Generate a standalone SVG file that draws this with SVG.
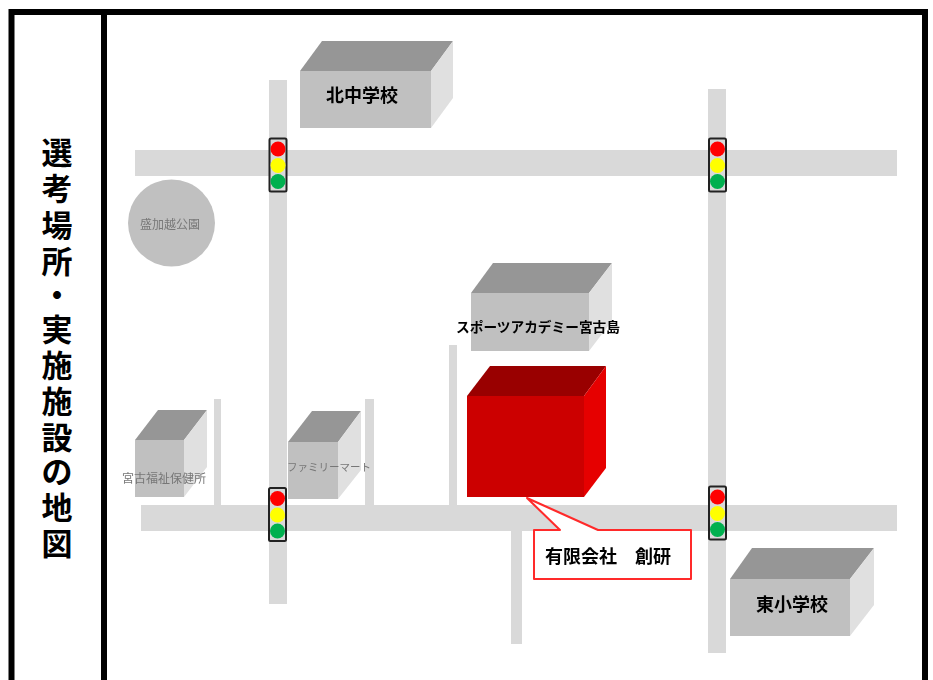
<svg xmlns="http://www.w3.org/2000/svg" width="933" height="680" viewBox="0 0 933 680">
<style>
.road{fill:#d9d9d9}
.top{fill:#969696}
.front{fill:#c0c0c0}
.side{fill:#e0e0e0}
.box{fill:none;stroke:#222;stroke-width:2}
.t{font-family:"Noto Sans CJK JP","Liberation Sans",sans-serif;text-anchor:middle}
.b{font-weight:700;fill:#000;font-size:18px}
.g{fill:#777;font-size:12px}
.frame{fill:none;stroke:#000;stroke-width:6}
</style>
<defs>
<filter id="soft" x="-5%" y="-5%" width="110%" height="110%"><feGaussianBlur stdDeviation="0.55"/></filter>
<g id="signal">
<rect class="box" x="-8.5" y="-27" width="17" height="53" rx="1.5" fill="none"/>
<circle cx="0" cy="-16.5" r="7.5" fill="#ff0000"/>
<circle cx="0" cy="0" r="7.5" fill="#ffff00"/>
<circle cx="0" cy="16" r="7.5" fill="#00b050"/>
</g>
</defs>
<rect width="933" height="680" fill="#fff"/>
<g id="frame">
<path class="frame" d="M11.500 680V12H925V680M104 12V680"/>
</g>
<g id="title">
<text class="t" font-size="31" font-weight="700" fill="#000" x="57 57 57 57 57 57 57 57 57 57 57 57" y="164 200 237 273 306 341 377 413 449 483 519 555">選考場所・実施施設の地図</text>
</g>
<g id="connectors" filter="url(#soft)">
<rect class="road" x="135" y="150" width="762" height="26"/>
<rect class="road" x="141" y="505" width="756" height="26"/>
<rect class="road" x="269" y="80" width="18" height="524"/>
<rect class="road" x="708" y="89" width="18" height="564"/>
<rect class="road" x="214" y="399" width="7" height="106"/>
<rect class="road" x="365" y="399" width="9" height="106"/>
<rect class="road" x="449" y="345" width="8" height="160"/>
<rect class="road" x="511" y="531" width="11" height="113"/>
</g>
<g id="park" filter="url(#soft)">
<circle cx="171.500" cy="223" r="43.500" fill="#c0c0c0"/>
<text class="t g" x="170" y="229" font-size="12">盛加越公園</text>
</g>
<g id="north-school" filter="url(#soft)">
<polygon class="top" points="300,71 322,41 453,41 431,71"/>
<polygon class="side" points="431,71 453,41 453,98 431,128"/>
<rect class="front" x="300" y="71" width="131" height="57"/>
<text class="t b" x="362" y="102">北中学校</text>
</g>
<g id="sports-academy" filter="url(#soft)">
<polygon class="top" points="471,293 493,263 612,263 589,293"/>
<polygon class="side" points="589,293 612,263 612,321 589,351"/>
<rect class="front" x="471" y="293" width="118" height="58"/>
<text class="t b" x="538" y="332" style="font-size:13.700px">スポーツアカデミー宮古島</text>
</g>
<g id="souken" filter="url(#soft)">
<polygon points="467,396 490,366 606,366 584,396" fill="#990000"/>
<polygon points="584,396 606,366 606,468 584,497" fill="#e60000"/>
<rect x="467" y="396" width="117" height="101" fill="#cc0000"/>
</g>
<g id="welfare" filter="url(#soft)">
<polygon class="top" points="135,440 158,410 207,410 184,440"/>
<polygon class="side" points="184,440 207,410 207,467 184,497"/>
<rect class="front" x="135" y="440" width="49" height="57"/>
<text class="t g" x="164" y="483">宮古福祉保健所</text>
</g>
<g id="familymart" filter="url(#soft)">
<polygon class="top" points="288,442 312,411 361,411 338,442"/>
<polygon class="side" points="338,442 361,411 361,470 338,499"/>
<rect class="front" x="288" y="442" width="50" height="57"/>
<text class="t g" x="329" y="471" style="font-size:10.500px">ファミリーマート</text>
</g>
<g id="east-school" filter="url(#soft)">
<polygon class="top" points="730,579 752,548 874,548 850,579"/>
<polygon class="side" points="850,579 874,548 874,605 850,636"/>
<rect class="front" x="730" y="579" width="120" height="57"/>
<text class="t b" x="792" y="611">東小学校</text>
</g>
<g id="signals" filter="url(#soft)">
<use href="#signal" x="278" y="165.500"/>
<use href="#signal" x="717.500" y="165.500"/>
<use href="#signal" x="277.500" y="515"/>
<use href="#signal" x="717.500" y="513.500"/>
</g>
<g id="callout" filter="url(#soft)">
<path d="M534 530H560L527 498L598 530H691V579H534Z" fill="#fff" stroke="#ff2a2a" stroke-width="2" stroke-linejoin="round"/>
<text class="t b" x="608" y="563">有限会社　創研</text>
</g>
</svg>
